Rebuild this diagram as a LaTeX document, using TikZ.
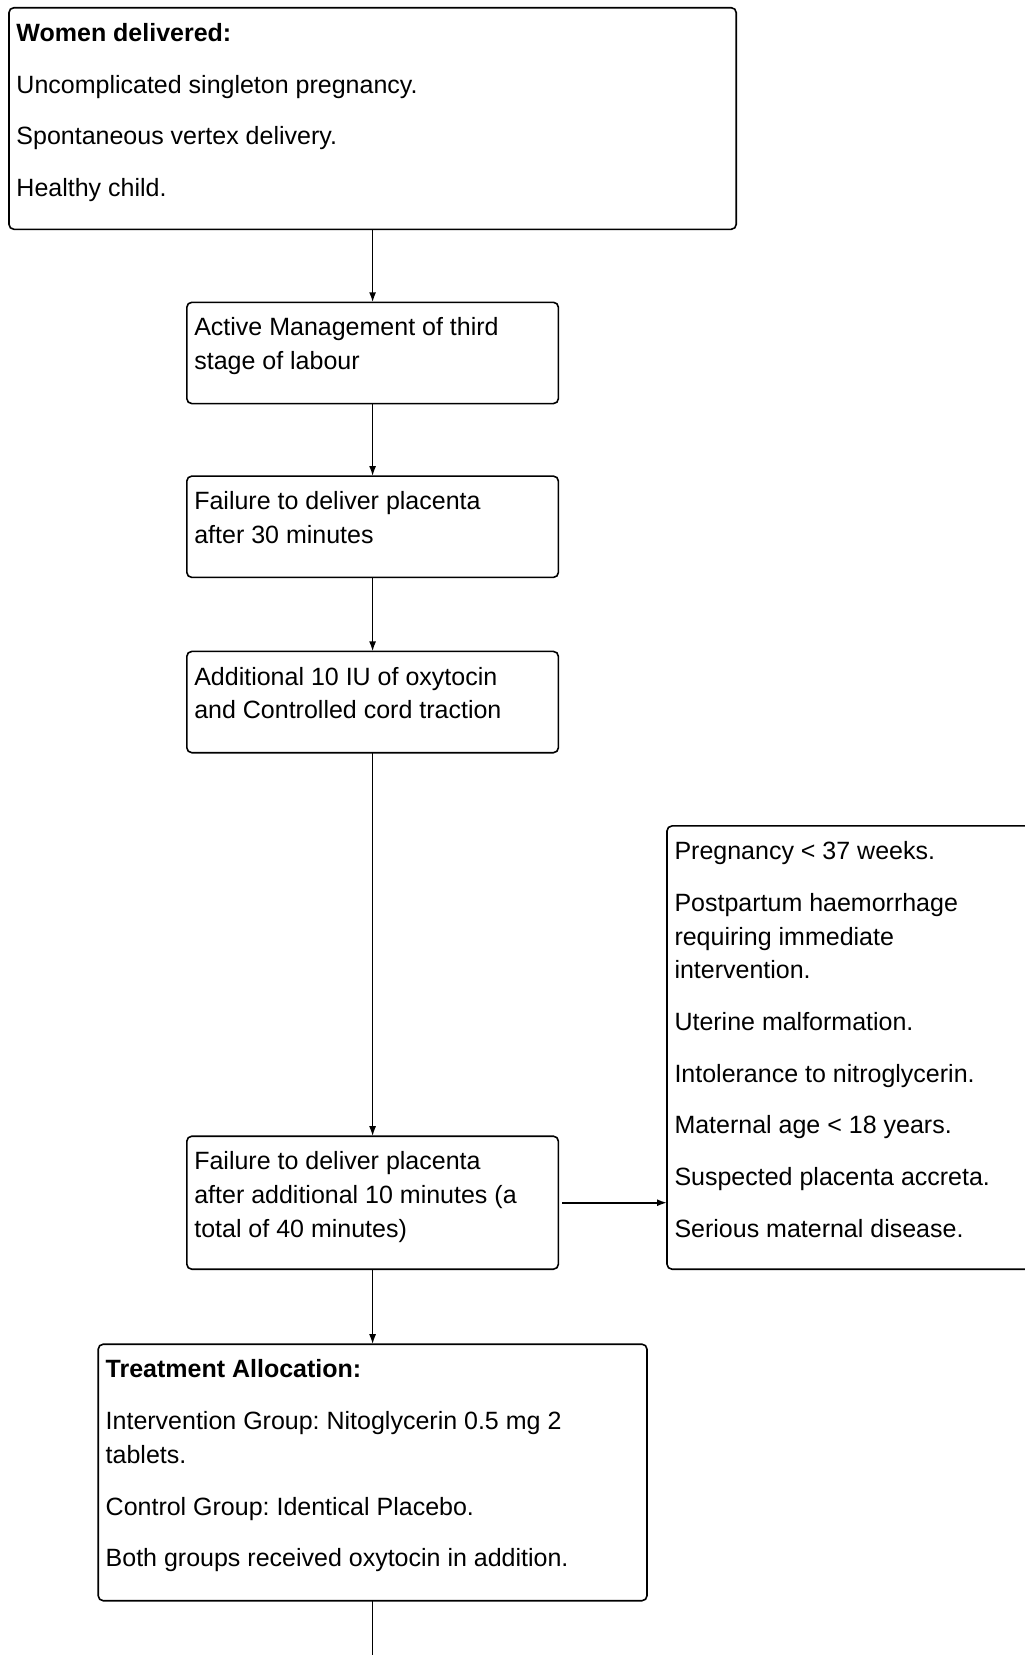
\documentclass[tikz,border=0pt]{standalone}
\usepackage{fontspec}
\setmainfont{Liberation Sans}
\frenchspacing
\usetikzlibrary{arrows.meta,positioning}
\newcommand{\boxtext}[3]{\parbox[c][#2][t]{#1}{\raggedright\setlength{\parskip}{17.9pt}\strut #3}}

\begin{document}
\begin{tikzpicture}[x=1pt,y=1pt,transform shape,
          font=\fontsize{25pt}{33.8pt}\selectfont,
          flowbox/.style={rectangle, draw, rounded corners=5pt, line width=1.6pt, inner xsep=7.5pt, inner ysep=10pt, outer sep=0pt},
          link/.style={line width=1.6pt},
          arr/.style={link, -{Latex[length=10pt,width=7pt]}}]
          \useasboundingbox (0,0) rectangle (1025,-1655);
          \node[flowbox] at (372.6,-118.5) (women) {\boxtext{712.3pt}{201.6pt}{\textbf{Women delivered:}\par Uncomplicated singleton pregnancy.\par Spontaneous vertex delivery.\par Healthy child.}};
          \node[flowbox, below=73pt of women] (active) {\boxtext{356.6pt}{81.3pt}{Active Management of third\\ stage of labour}};
          \node[flowbox, below=72.5pt of active] (fail30) {\boxtext{356.6pt}{81.3pt}{Failure to deliver placenta\\ after 30 minutes}};
          \node[flowbox, below=74pt of fail30] (oxy) {\boxtext{356.6pt}{81.3pt}{Additional 10 IU of oxytocin\\ and Controlled cord traction}};
          \node[flowbox, below=383.5pt of oxy] (fail40) {\boxtext{356.6pt}{113pt}{Failure to deliver placenta\\ after additional 10 minutes (a\\ total of 40 minutes)}};
          \node[flowbox, right=108.6pt of fail40.south east, anchor=south west] (excl) {\boxtext{356.6pt}{423.3pt}{Pregnancy < 37 weeks.\par Postpartum haemorrhage\\ requiring immediate\\ intervention.\par Uterine malformation.\par Intolerance to nitroglycerin.\par Maternal age < 18 years.\par Suspected placenta accreta.\par Serious maternal disease.}};
          \node[flowbox, below=75pt of fail40] (treat) {\boxtext{533.8pt}{236.5pt}{\textbf{Treatment Allocation:}\par Intervention Group: Nitoglycerin 0.5 mg 2\\ tablets.\par Control Group: Identical Placebo.\par Both groups received oxytocin in addition.}};
          \coordinate (bottom) at (372.6,-1655);
          \draw[arr] (women) -- (active);
          \draw[arr] (active) -- (fail30);
          \draw[arr] (fail30) -- (oxy);
          \draw[arr] (oxy) -- (fail40);
          \draw[arr, shorten <=4pt] (fail40.east) -- (fail40.east -| excl.west);
          \draw[arr] (fail40) -- (treat);
          \draw[link] (treat) -- (bottom);
        \end{tikzpicture}
\end{document}
